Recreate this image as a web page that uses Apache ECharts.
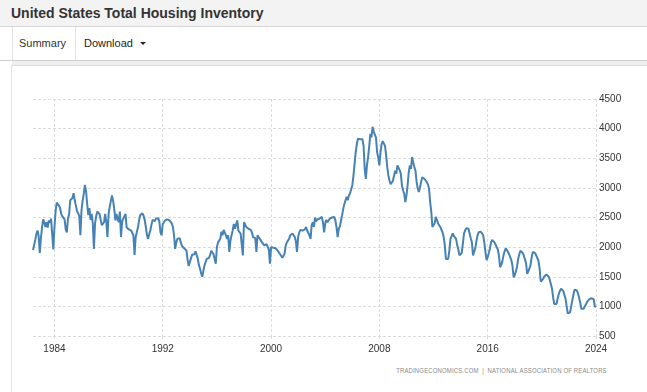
<!DOCTYPE html>
<html>
<head>
<meta charset="utf-8">
<script src="https://cdn.jsdelivr.net/npm/echarts@6/dist/echarts.min.js"></script>
<style>
  html, body { margin: 0; padding: 0; width: 647px; height: 392px; overflow: hidden; background: #fff; font-family: 'Liberation Sans', Arial, sans-serif; }
  #hdr { position: absolute; left: 0; top: 0; width: 647px; height: 26px; background: #f3f3f3; border-bottom: 1px solid #d6d6d6; }
  #hdr span { position: absolute; left: 11px; top: 5px; font-weight: bold; font-size: 14px; line-height: 16px; color: #333; white-space: nowrap; }
  #bar { position: absolute; left: 0; top: 27px; width: 647px; height: 33px; background: #fff; border-bottom: 1px solid #cfcfcf; }
  .sep { position: absolute; top: 0; width: 1px; height: 33px; background: #e2e2e2; }
  .btn { position: absolute; top: 9px; font-size: 11px; line-height: 14px; white-space: nowrap; }
  #caret { position: absolute; left: 140px; top: 15px; width: 0; height: 0; border-left: 3px solid transparent; border-right: 3px solid transparent; border-top: 3px solid #222; }
  #band { position: absolute; left: 12px; top: 61px; width: 635px; height: 4px; background: #efefef; }
  #panel { position: absolute; left: 11px; top: 65px; width: 640px; height: 330px; border-left: 1px solid #e3e3e3; border-top: 1px solid #dcdcdc; }
  #foot { position: absolute; right: 40px; top: 366px; font-size: 7px; line-height: 9px; color: #8a8a8a; white-space: nowrap; letter-spacing: 0.2px; transform: scaleX(0.85); transform-origin: right center; }
  #chart { position: absolute; left: 0; top: 0; width: 647px; height: 392px; }
</style>
</head>
<body>
<div id="hdr"><span>United States Total Housing Inventory</span></div>
<div id="bar">
  <div class="sep" style="left:12px"></div>
  <div class="sep" style="left:75px"></div>
  <div class="btn" style="left:19px;color:#333">Summary</div>
  <div class="btn" style="left:84px;color:#222">Download</div>
  <div id="caret"></div>
</div>
<div id="band"></div>
<div id="panel"></div>
<div id="foot">TRADINGECONOMICS.COM &nbsp;|&nbsp; NATIONAL ASSOCIATION OF REALTORS</div>
<div id="chart"></div>
<script>
// Series start (first monthly observation)
const startYear = 1982;
const startMonth = 6;

// Total housing inventory (thousands), monthly, Jun 1982 – Jan 2024
const inventory = [
  /*1982*/ 1950, 1930, 2120, 2220, 2280, 2190, 1900,
  /*1983*/ 2150, 2330, 2470, 2420, 2340, 2420, 2330, 2450, 2410, 2480, 2450, 1960,
  /*1984*/ 2330, 2600, 2750, 2720, 2700, 2660, 2560, 2520, 2540, 2470, 2300, 2250,
  /*1985*/ 2480, 2560, 2790, 2780, 2830, 2910, 2790, 2700, 2610, 2570, 2530, 2200,
  /*1986*/ 2620, 2790, 2900, 3050, 2950, 2730, 2540, 2660, 2460, 2560, 2400, 1970,
  /*1987*/ 2400, 2520, 2600, 2620, 2560, 2460, 2370, 2340, 2420, 2560, 2420, 2170,
  /*1988*/ 2560, 2680, 2780, 2870, 2780, 2650, 2450, 2560, 2480, 2420, 2600, 2170,
  /*1989*/ 2430, 2480, 2520, 2560, 2330, 2310, 2300, 2290, 2280, 2250, 2200, 1870,
  /*1990*/ 2170, 2250, 2330, 2450, 2540, 2510, 2570, 2530, 2460, 2340, 2200, 2140,
  /*1991*/ 2220, 2280, 2380, 2460, 2480, 2440, 2480, 2460, 2490, 2430, 2250, 2200,
  /*1992*/ 2390, 2420, 2450, 2480, 2470, 2460, 2450, 2440, 2400, 2340, 2200, 1970,
  /*1993*/ 2080, 2140, 2140, 2150, 2080, 2020, 2000, 1980, 1950, 1940, 1790, 1680,
  /*1994*/ 1700, 1810, 1870, 1850, 1880, 1930, 1900, 1810, 1700, 1640, 1560, 1500,
  /*1995*/ 1600, 1690, 1750, 1800, 1830, 1820, 1870, 1940, 1910, 1880, 1870, 1720,
  /*1996*/ 2000, 2080, 2110, 2140, 2260, 2200, 2290, 2310, 2200, 2140, 2200, 1920,
  /*1997*/ 2110, 2200, 2280, 2390, 2310, 2330, 2450, 2280, 2250, 2230, 2200, 1860,
  /*1998*/ 2420, 2390, 2340, 2340, 2310, 2280, 2290, 2250, 2170, 2200, 2150, 1920,
  /*1999*/ 2200, 2180, 2140, 2110, 2080, 2060, 2030, 2010, 2050, 2020, 1960, 1720,
  /*2000*/ 2000, 2010, 1990, 2000, 1980, 1960, 1940, 1920, 1880, 1860, 1820, 1790,
  /*2001*/ 1890, 2030, 2080, 2110, 2140, 2200, 2190, 2230, 2250, 2170, 2100, 1920,
  /*2002*/ 2170, 2250, 2290, 2310, 2280, 2250, 2300, 2340, 2280, 2280, 2200, 2140,
  /*2003*/ 2370, 2420, 2340, 2500, 2430, 2470, 2450, 2480, 2460, 2510, 2420, 2250,
  /*2004*/ 2400, 2460, 2420, 2450, 2480, 2460, 2500, 2470, 2510, 2450, 2340, 2170,
  /*2005*/ 2310, 2350, 2450, 2540, 2650, 2730, 2790, 2850, 2790, 2870, 2910, 2900,
  /*2006*/ 3040, 3200, 3400, 3600, 3740, 3830, 3850, 3820, 3850, 3820, 3710, 3320,
  /*2007*/ 3150, 3380, 3520, 3700, 3910, 3850, 4030, 3950, 3900, 3850, 3600, 3510,
  /*2008*/ 3380, 3600, 3740, 3790, 3770, 3710, 3550, 3350, 3210, 3120, 3060, 3040,
  /*2009*/ 3120, 3150, 3290, 3240, 3380, 3350, 3300, 3240, 3040, 2960, 2900, 2760,
  /*2010*/ 2870, 3040, 3260, 3380, 3320, 3520, 3430, 3350, 3290, 3100, 2990, 2930,
  /*2011*/ 3010, 3100, 3180, 3210, 3150, 3120, 3100, 3060, 2990, 2760, 2600, 2340,
  /*2012*/ 2310, 2400, 2510, 2460, 2400, 2400, 2340, 2360, 2250, 2170, 2030, 1800,
  /*2013*/ 1780, 1800, 1940, 2140, 2150, 2230, 2190, 2160, 2140, 2030, 1960, 1860,
  /*2014*/ 1870, 1900, 2060, 2230, 2280, 2320, 2340, 2310, 2230, 2150, 2080, 1860,
  /*2015*/ 1870, 1980, 2100, 2200, 2250, 2280, 2260, 2250, 2200, 2080, 1920, 1780,
  /*2016*/ 1830, 1900, 1980, 2080, 2120, 2120, 2080, 2040, 2000, 1960, 1850, 1660,
  /*2017*/ 1700, 1760, 1860, 1930, 1980, 1960, 1920, 1880, 1850, 1780, 1680, 1490,
  /*2018*/ 1530, 1590, 1670, 1800, 1880, 1940, 1920, 1900, 1860, 1830, 1730, 1550,
  /*2019*/ 1590, 1640, 1700, 1830, 1920, 1940, 1900, 1860, 1830, 1770, 1640, 1420,
  /*2020*/ 1420, 1460, 1500, 1470, 1540, 1560, 1500, 1450, 1420, 1300, 1150, 1040,
  /*2021*/ 1020, 1040, 1130, 1210, 1260, 1300, 1290, 1260, 1240, 1130, 1000, 880,
  /*2022*/ 850, 900, 1000, 1100, 1200, 1280, 1300, 1270, 1220, 1150, 1060, 960,
  /*2023*/ 960, 960, 970, 1030, 1070, 1100, 1120, 1110, 1140, 1130, 1120, 990,
  /*2024*/ 1010
];

// Axis ticks
const xTickYears = [1984, 1992, 2000, 2008, 2016, 2024];
const yTickMin = 500;
const yTickMax = 4500;
const yTickStep = 500;

const points = inventory.map((v, i) => [startYear + (startMonth - 1 + i) / 12, v]);
const xMin = points[0][0];
const xMax = points[points.length - 1][0];

const grid = '#dcdcdc';
const chart = echarts.init(document.getElementById('chart'), null, { renderer: 'canvas' });
chart.setOption({
  animation: false,
  backgroundColor: 'transparent',
  grid: { left: 33, right: 51, top: 99, bottom: 56, containLabel: false },
  xAxis: {
    type: 'value',
    min: xMin,
    max: xMax,
    axisLine: { show: false },
    axisTick: { show: true, customValues: xTickYears, length: 5, lineStyle: { color: grid, type: [3, 2] } },
    axisLabel: {
      customValues: xTickYears,
      formatter: v => String(Math.round(v)),
      color: '#333', fontSize: 10, fontFamily: 'Liberation Sans', margin: 8
    },
    splitLine: { show: true, lineStyle: { color: grid, type: [3, 2], width: 1 } }
  },
  yAxis: {
    type: 'value',
    position: 'right',
    min: yTickMin,
    max: yTickMax,
    interval: yTickStep,
    axisLine: { show: false },
    axisTick: { show: false },
    axisLabel: { color: '#333', fontSize: 10, fontFamily: 'Liberation Sans', margin: 3, formatter: v => String(v) },
    splitLine: { show: true, lineStyle: { color: grid, type: [3, 2], width: 1 } }
  },
  series: [{
    type: 'line',
    data: points,
    showSymbol: false,
    symbol: 'none',
    lineStyle: { color: '#4682b4', width: 2 },
    itemStyle: { color: '#4682b4' }
  }]
});
</script>
</body>
</html>
